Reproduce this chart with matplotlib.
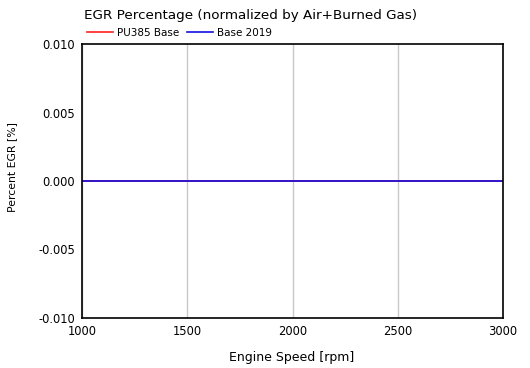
import matplotlib.pyplot as plt

# engine speed sweep and EGR percent for both cases (all zero)
speed = [1000, 1250, 1500, 1750, 2000, 2250, 2500, 2750, 3000]
egr_pu385 = [0, 0, 0, 0, 0, 0, 0, 0, 0]
egr_base2019 = [0, 0, 0, 0, 0, 0, 0, 0, 0]

plt.rcParams['font.family'] = ['DejaVu Sans']

fig = plt.figure(figsize=(5.30, 3.68), dpi=100)
ax = fig.add_axes([82 / 530, 1 - 318 / 368, 421 / 530, 274 / 368])

ax.plot(speed, egr_pu385, color='#ff2020', lw=1.2, label='PU385 Base')
ax.plot(speed, egr_base2019, color='#1010e0', lw=1.2, label='Base 2019')

ax.set_xlim(1000, 3000)
ax.set_ylim(-0.010, 0.010)
ax.set_xticks([1000, 1500, 2000, 2500, 3000])
ax.set_yticks([-0.010, -0.005, 0.0, 0.005, 0.010])
ax.set_yticklabels(['-0.010', '-0.005', '0.000', '0.005', '0.010'])
ax.xaxis.grid(True, color='#c8c8c8', lw=1)
ax.set_axisbelow(True)
ax.tick_params(length=0, labelsize=8.3, pad=5)
for s in ax.spines.values():
    s.set_linewidth(1.2)

ax.set_xlabel('Engine Speed [rpm]', fontsize=9)
ax.xaxis.set_label_coords(0.497, -0.12)
ax.set_ylabel('Percent EGR [%]', fontsize=7.8)
ax.yaxis.set_label_coords(-0.155, 0.551)
fig.text(251 / 530, 1 - 15 / 368, 'EGR Percentage (normalized by Air+Burned Gas)',
         ha='center', va='center', fontsize=9.7)

ax.legend(loc='center left', bbox_to_anchor=(0.012, 1.04), ncol=2, frameon=False,
          fontsize=7.5, handlelength=2.5, handletextpad=0.4, columnspacing=0.7,
          borderpad=0, borderaxespad=0)

fig.savefig('out.png', dpi=100)
